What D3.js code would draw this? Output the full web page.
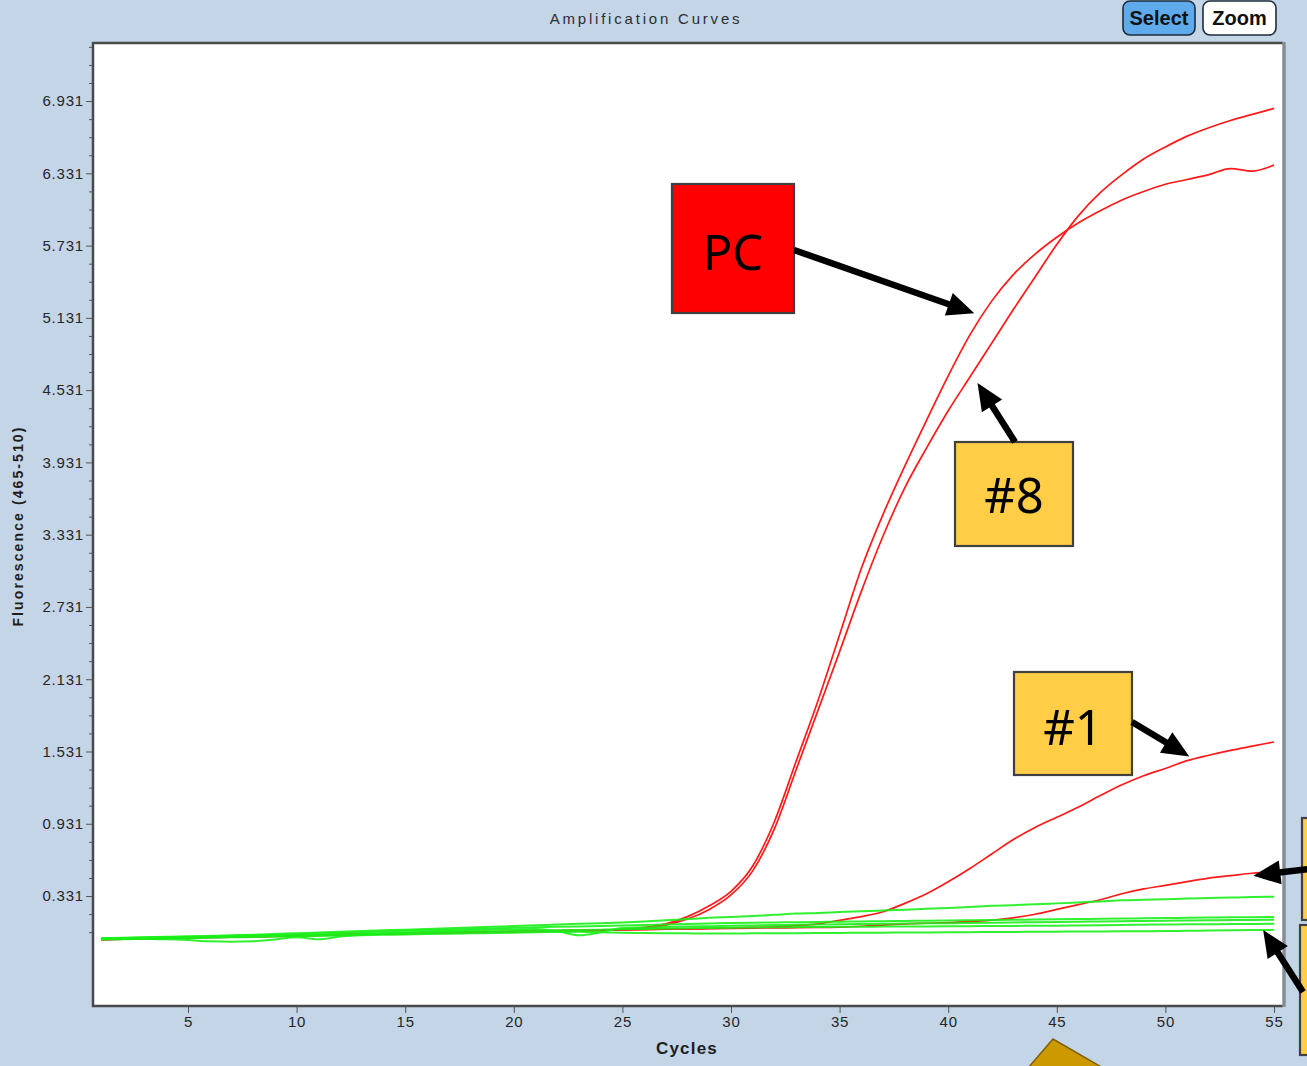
<!DOCTYPE html>
<html>
<head>
<meta charset="utf-8">
<script src="https://cdn.jsdelivr.net/npm/d3@7"></script>
<style>
  html, body { margin: 0; padding: 0; background: #c3d5e6; }
  svg { display: block; }
</style>
</head>
<body>
<svg id="chart" width="1307" height="1066"></svg>
<script>
// ---- data: fluorescence (465-510) per cycle, cycles 1..55 ----
const cycles = d3.range(1, 56);

const pcCurve = [
  -0.030,-0.026,-0.022,-0.018,-0.014,-0.011,-0.008,-0.005,-0.002,0.002,
   0.006, 0.010, 0.014, 0.018, 0.021, 0.024, 0.027, 0.030, 0.033,0.036,
   0.039, 0.042, 0.045, 0.048, 0.052, 0.070, 0.100, 0.160, 0.250,0.370,
   0.580, 0.950, 1.450, 1.950, 2.500, 3.050, 3.500, 3.900, 4.280,4.650,
   4.990, 5.270, 5.490, 5.660, 5.800, 5.920, 6.020, 6.110, 6.180,6.240,
   6.280, 6.320, 6.370, 6.350, 6.400];

const sample8 = [
  -0.028,-0.025,-0.021,-0.017,-0.013,-0.010,-0.007,-0.004,0.000,0.004,
   0.008, 0.012, 0.015, 0.019, 0.022, 0.025, 0.028, 0.031,0.034,0.037,
   0.040, 0.043, 0.046, 0.049, 0.053, 0.062, 0.090, 0.140,0.220,0.340,
   0.540, 0.890, 1.380, 1.870, 2.360, 2.860, 3.320, 3.720,4.050,4.360,
   4.640, 4.920, 5.200, 5.470, 5.740, 5.980, 6.170, 6.320,6.450,6.550,
   6.640, 6.710, 6.770, 6.820, 6.870];

const sample1 = [
  -0.031,-0.027,-0.023,-0.019,-0.015,-0.012,-0.009,-0.006,-0.003,0.001,
   0.005, 0.009, 0.013, 0.017, 0.020, 0.023, 0.026, 0.029, 0.032,0.035,
   0.038, 0.041, 0.044, 0.047, 0.050, 0.053, 0.056, 0.059, 0.062,0.065,
   0.070, 0.075, 0.085, 0.100, 0.130, 0.160, 0.200, 0.270, 0.350,0.450,
   0.560, 0.680, 0.800, 0.900, 0.985, 1.070, 1.165, 1.255, 1.330,1.390,
   1.455, 1.500, 1.540, 1.575, 1.610];

const sampleLow = [
  -0.032,-0.028,-0.024,-0.020,-0.016,-0.013,-0.010,-0.007,-0.004,0.000,
   0.004, 0.008, 0.012, 0.016, 0.019, 0.022, 0.025, 0.028, 0.031,0.034,
   0.037, 0.040, 0.043, 0.046, 0.049, 0.052, 0.055, 0.058, 0.060,0.063,
   0.065, 0.066, 0.068, 0.070, 0.072, 0.080, 0.090, 0.100, 0.105,0.110,
   0.120, 0.130, 0.150, 0.180, 0.220, 0.260, 0.300, 0.350, 0.390,0.420,
   0.450, 0.480, 0.500, 0.520, 0.530];

const negative1 = [
  -0.020,-0.016,-0.012,-0.008,-0.004, 0.000, 0.005, 0.010, 0.016,0.022,
   0.028, 0.034, 0.040, 0.046, 0.052, 0.058, 0.064, 0.070, 0.076,0.082,
   0.088, 0.094, 0.100, 0.106, 0.112, 0.120, 0.130, 0.140, 0.150,0.157,
   0.165, 0.175, 0.185, 0.190, 0.198, 0.205, 0.210, 0.218, 0.225,0.232,
   0.240, 0.250, 0.255, 0.262, 0.270, 0.278, 0.286, 0.295, 0.300,0.305,
   0.310, 0.314, 0.318, 0.322, 0.325];

const negative2 = [
  -0.022,-0.018,-0.014,-0.010,-0.006,-0.003, 0.000, 0.004, 0.008,0.013,
   0.018, 0.024, 0.030, 0.036, 0.042, 0.047, 0.052, 0.057, 0.062,0.067,
   0.071, 0.075, 0.079, 0.083, 0.087, 0.091, 0.095, 0.099, 0.103,0.107,
   0.110, 0.112, 0.114, 0.116, 0.118, 0.120, 0.122, 0.124, 0.126,0.128,
   0.130, 0.132, 0.134, 0.136, 0.138, 0.140, 0.142, 0.144, 0.146,0.148,
   0.150, 0.152, 0.154, 0.155, 0.156];

const negative3 = [
  -0.020,-0.022,-0.025,-0.028,-0.035,-0.045,-0.048,-0.045,-0.030,-0.012,
  -0.028,-0.005, 0.010, 0.020, 0.028, 0.034, 0.040, 0.045, 0.050, 0.054,
   0.058, 0.040, 0.005, 0.030, 0.066, 0.070, 0.074, 0.078, 0.081, 0.084,
   0.087, 0.090, 0.092, 0.094, 0.096, 0.098, 0.100, 0.102, 0.104, 0.106,
   0.108, 0.110, 0.112, 0.114, 0.116, 0.118, 0.120, 0.122, 0.124, 0.126,
   0.128, 0.130, 0.132, 0.133, 0.134];

const negative4 = [
  -0.028,-0.024,-0.020,-0.016,-0.012,-0.009,-0.006,-0.003, 0.000,0.004,
   0.008, 0.012, 0.016, 0.020, 0.024, 0.028, 0.031, 0.034, 0.037,0.040,
   0.043, 0.046, 0.049, 0.052, 0.055, 0.058, 0.061, 0.064, 0.066,0.068,
   0.070, 0.072, 0.073, 0.074, 0.075, 0.076, 0.077, 0.078, 0.079,0.080,
   0.081, 0.082, 0.083, 0.084, 0.085, 0.087, 0.089, 0.091, 0.093,0.095,
   0.096, 0.097, 0.098, 0.099, 0.100];

const negative5 = [
  -0.030,-0.027,-0.024,-0.021,-0.018,-0.015,-0.012,-0.009,-0.006,-0.003,
   0.000, 0.003, 0.006, 0.009, 0.012, 0.015, 0.018, 0.021, 0.024, 0.027,
   0.030, 0.032, 0.034, 0.030, 0.026, 0.024, 0.022, 0.021, 0.020, 0.020,
   0.021, 0.022, 0.023, 0.024, 0.025, 0.026, 0.027, 0.028, 0.029, 0.030,
   0.031, 0.032, 0.033, 0.034, 0.035, 0.036, 0.037, 0.038, 0.039, 0.040,
   0.042, 0.044, 0.046, 0.048, 0.050];

const redSeries   = [sampleLow, sample1, sample8, pcCurve];
const greenSeries = [negative5, negative4, negative3, negative2, negative1];

const yTickLabels = ["0.331","0.931","1.531","2.131","2.731","3.331",
                     "3.931","4.531","5.131","5.731","6.331","6.931"];
const xTickLabels = ["5","10","15","20","25","30","35","40","45","50","55"];

// ---- layout ----
const plot = { left: 93, top: 43, right: 1283, bottom: 1006 };
const svg = d3.select("#chart");
const uiFont = "'Liberation Sans', Arial, sans-serif";
const textColor = "#262626";

const x = d3.scaleLinear().domain([0.626, 55.414]).range([plot.left, plot.right]);
const y = d3.scaleLinear().domain([-0.582, 7.413]).range([plot.bottom, plot.top]);

// background
svg.append("rect").attr("width", 1307).attr("height", 1066).attr("fill", "#c3d5e6");

// title
svg.append("text")
  .attr("x", 646).attr("y", 24)
  .attr("text-anchor", "middle")
  .attr("font-family", uiFont).attr("font-size", 15)
  .attr("letter-spacing", 2.8)
  .attr("fill", "#2e2e2e")
  .text("Amplification Curves");

// Select / Zoom buttons
const buttons = [
  { label: "Select", x: 1123, w: 72, fill: "#5eaaea" },
  { label: "Zoom",   x: 1203, w: 73, fill: "#ffffff" }
];
buttons.forEach(b => {
  svg.append("rect").attr("x", b.x).attr("y", 1).attr("width", b.w).attr("height", 34)
    .attr("rx", 7).attr("fill", b.fill).attr("stroke", "#1e2c3a").attr("stroke-width", 1.6);
  svg.append("text").attr("x", b.x + b.w / 2).attr("y", 25)
    .attr("text-anchor", "middle").attr("font-family", uiFont)
    .attr("font-weight", "bold").attr("font-size", 20).attr("fill", "#111")
    .text(b.label);
});

// plot area
svg.append("rect")
  .attr("x", plot.left).attr("y", plot.top)
  .attr("width", plot.right - plot.left).attr("height", plot.bottom - plot.top)
  .attr("fill", "#ffffff");

svg.append("clipPath").attr("id", "plotClip")
  .append("rect")
  .attr("x", plot.left).attr("y", plot.top)
  .attr("width", plot.right - plot.left).attr("height", plot.bottom - plot.top);

// y axis: labelled major ticks plus minor ticks every 0.15
const yMajor = yTickLabels.map(Number);
const yMinor = d3.range(0, 60).map(i => +(0.031 + i * 0.15).toFixed(3))
  .filter(v => v < 7.41 && !yMajor.some(m => Math.abs(m - v) < 1e-6));

const gyMinor = svg.append("g").attr("transform", `translate(${plot.left},0)`)
  .call(d3.axisLeft(y).tickValues(yMinor).tickSize(4).tickFormat(""));
gyMinor.select(".domain").remove();
gyMinor.selectAll("line").attr("stroke", "#555");

const gy = svg.append("g").attr("transform", `translate(${plot.left},0)`)
  .call(d3.axisLeft(y).tickValues(yMajor).tickSize(7).tickPadding(2)
    .tickFormat((d, i) => yTickLabels[i]));
gy.select(".domain").remove();
gy.selectAll("line").attr("stroke", "#555");
gy.selectAll("text").attr("font-family", uiFont).attr("font-size", 15)
  .attr("letter-spacing", 0.8).attr("fill", textColor);

// x axis
const gx = svg.append("g").attr("transform", `translate(0,${plot.bottom})`)
  .call(d3.axisBottom(x).tickValues(xTickLabels.map(Number)).tickSize(7).tickPadding(3)
    .tickFormat((d, i) => xTickLabels[i]));
gx.select(".domain").remove();
gx.selectAll("line").attr("stroke", "#555");
gx.selectAll("text").attr("font-family", uiFont).attr("font-size", 15)
  .attr("letter-spacing", 0.8).attr("fill", textColor);

// axis titles
svg.append("text")
  .attr("transform", "translate(23,526) rotate(-90)")
  .attr("text-anchor", "middle").attr("font-family", uiFont)
  .attr("font-weight", "bold").attr("font-size", 14).attr("letter-spacing", 2.1)
  .attr("fill", "#1e1e1e")
  .text("Fluorescence (465-510)");

svg.append("text")
  .attr("x", 687).attr("y", 1054)
  .attr("text-anchor", "middle").attr("font-family", uiFont)
  .attr("font-weight", "bold").attr("font-size", 17).attr("letter-spacing", 1.2)
  .attr("fill", "#1e1e1e")
  .text("Cycles");

// curves
const line = d3.line()
  .x((d, i) => x(cycles[i]))
  .y(d => y(d))
  .curve(d3.curveMonotoneX);

const curves = svg.append("g").attr("clip-path", "url(#plotClip)");
curves.selectAll("path.red").data(redSeries).join("path")
  .attr("class", "red")
  .attr("d", line)
  .attr("fill", "none").attr("stroke", "#ff1a1a").attr("stroke-width", 1.7);
curves.selectAll("path.green").data(greenSeries).join("path")
  .attr("class", "green")
  .attr("d", line)
  .attr("fill", "none").attr("stroke", "#18f018").attr("stroke-width", 2)
  .attr("stroke-opacity", 0.9);

// frame
const frame = svg.append("g").attr("fill", "none");
frame.append("path")
  .attr("d", `M${plot.right},${plot.top}H${plot.left}V${plot.bottom}H${plot.right}`)
  .attr("stroke", "#4a4a4a").attr("stroke-width", 2.5);
frame.append("line")
  .attr("x1", plot.right + 1).attr("x2", plot.right + 1)
  .attr("y1", plot.top - 1).attr("y2", plot.bottom + 1)
  .attr("stroke", "#858d96").attr("stroke-width", 3.5);

// ---- callouts ----
const notes = svg.append("g");

function arrow(x1, y1, x2, y2) {
  const dx = x2 - x1, dy = y2 - y1, L = Math.hypot(dx, dy);
  const ux = dx / L, uy = dy / L;
  const head = 27, hw = 12;
  const bx = x2 - ux * head, by = y2 - uy * head;
  notes.append("line")
    .attr("x1", x1).attr("y1", y1).attr("x2", bx + ux * 3).attr("y2", by + uy * 3)
    .attr("stroke", "#000").attr("stroke-width", 6.5);
  notes.append("path")
    .attr("d", `M${x2},${y2}L${bx - uy * hw},${by + ux * hw}L${bx + uy * hw},${by - ux * hw}Z`)
    .attr("fill", "#000");
}

function box(bx, by, bw, bh, fill, label, cx, baseline) {
  notes.append("rect").attr("x", bx).attr("y", by).attr("width", bw).attr("height", bh)
    .attr("fill", fill).attr("stroke", "#404040").attr("stroke-width", 2.2);
  if (label) {
    notes.append("text").attr("x", cx).attr("y", baseline)
      .attr("text-anchor", "middle")
      .attr("font-family", "'Noto Sans', 'DejaVu Sans', sans-serif")
      .attr("font-size", 49).attr("fill", "#000")
      .text(label);
  }
}

const gold = "#ffcd46";

// PC
box(672, 184, 122, 129, "#ff0000", "PC", 733, 270);
arrow(794, 250, x(41.2), y(5.17));
// #8
box(955, 442, 118, 104, gold, "#8", 1014, 513);
arrow(1015, 442, x(41.35), y(4.59));
// #1
box(1014, 672, 118, 103, gold, "#1", 1073, 745);
arrow(1132, 722, x(51.1), y(1.49));
// boxes running off the right edge
box(1302, 818, 40, 102, gold, null);
arrow(1309, 869, x(54.05), y(0.50));
box(1300, 925, 40, 130, gold, null);
arrow(1303, 992, x(54.5), y(0.05));

// marker at the bottom edge
notes.append("path")
  .attr("d", "M1028,1068L1053,1039L1103,1068Z")
  .attr("fill", "#cc9900").attr("stroke", "#7f6000").attr("stroke-width", 1.5);
</script>
</body>
</html>
